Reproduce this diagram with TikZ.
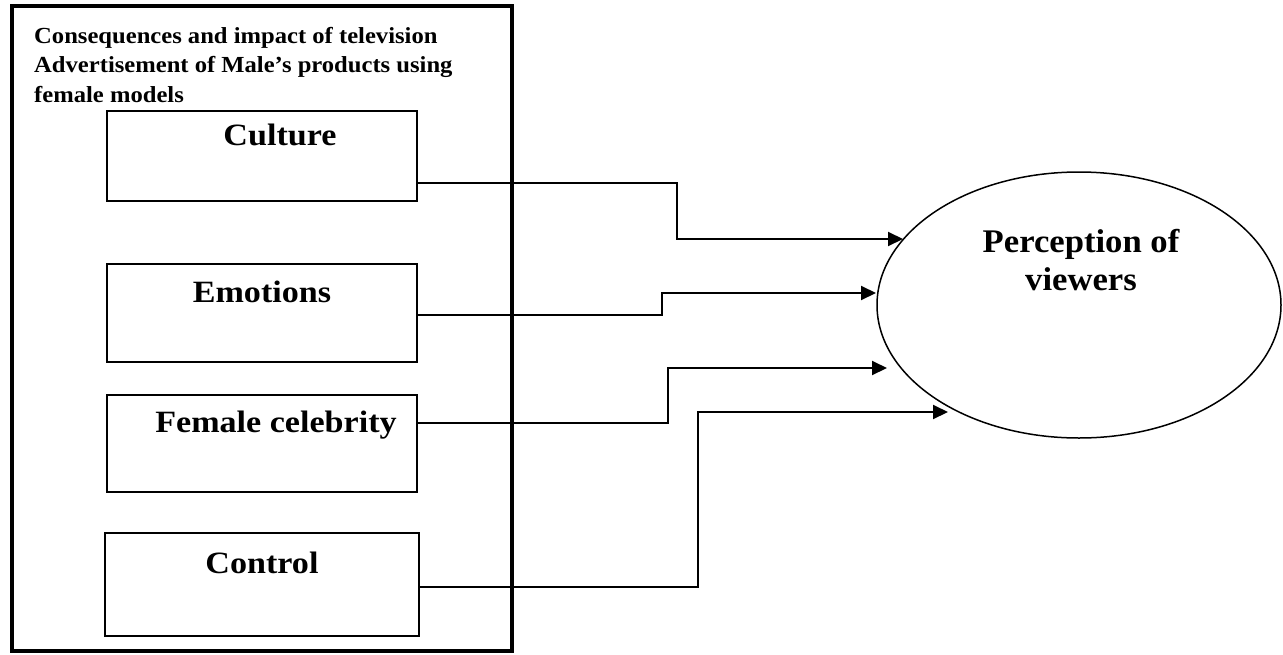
\documentclass[tikz,border=0pt]{standalone}
\usepackage{fontspec}
\setmainfont{Liberation Serif}
\newfontfamily\headfont{Liberation Serif}[FakeStretch=1.07]
\newfontfamily\factorfont{Liberation Serif}[FakeStretch=1.1]
\newfontfamily\viewfont{Liberation Serif}[FakeStretch=1.05]
\usetikzlibrary{shapes.geometric, arrows.meta, positioning}

\begin{document}
\begin{tikzpicture}[x=1pt, y=-1pt,
  factor/.style={draw, line width=1.3pt, inner sep=0pt, minimum width=310pt},
  factorlabel/.style={anchor=base, inner sep=0pt, font=\factorfont\bfseries\fontsize{31}{36}\selectfont},
  link/.style={line width=2pt, -{Triangle[length=15pt,width=14pt]}}]
\useasboundingbox (0,0) rectangle (1283,654);

% Outer frame and heading
\node[draw, line width=4pt, inner sep=0pt, minimum width=500pt, minimum height=645pt] (frame) at (262,328) {};
\node[anchor=north west, inner sep=0pt, align=left, font=\headfont\bfseries\fontsize{23}{29.5}\selectfont] (head) at (34,27)
  {Consequences and impact of television\\Advertisement of Male’s products using\\female models};

% Factors
\node[factor, minimum height=90pt] (cul) at (262,156) {};
\node[factor, minimum height=98pt] (emo) at (262,313) {};
\node[factor, minimum height=97pt] (fem) at (262,443.5) {};
\node[factor, minimum width=314pt, minimum height=103pt] (con) at (262,584.5) {};
\node[factorlabel] (cullab) at (280,145) {Culture};
\node[factorlabel] (emolab) at (262,302) {Emotions};
\node[factorlabel] (femlab) at (276,432) {Female celebrity};
\node[factorlabel] (conlab) at (262,573) {Control};

% Perception
\node[draw, ellipse, line width=1.5pt, minimum width=404pt, minimum height=266pt] (view) at (1079,305) {};
\node[anchor=north, inner sep=0pt, align=center, font=\viewfont\bfseries\fontsize{33}{38}\selectfont] (viewlab) at (1081,229.5)
  {Perception of\\viewers};

% Arrow tips
\coordinate (t1) at (903,239);
\coordinate (t2) at (876,293);
\coordinate (t3) at (887,368);
\coordinate (t4) at (948,412);

\draw[link] ([yshift=-27pt]cul.east) -| (677,239) -- (t1);
\draw[link] ([yshift=-2pt]emo.east) -| (662,293) -- (t2);
\draw[link] ([yshift=20.5pt]fem.east) -| (668,368) -- (t3);
\draw[link] ([yshift=-2.5pt]con.east) -| (698,412) -- (t4);
\end{tikzpicture}
\end{document}
